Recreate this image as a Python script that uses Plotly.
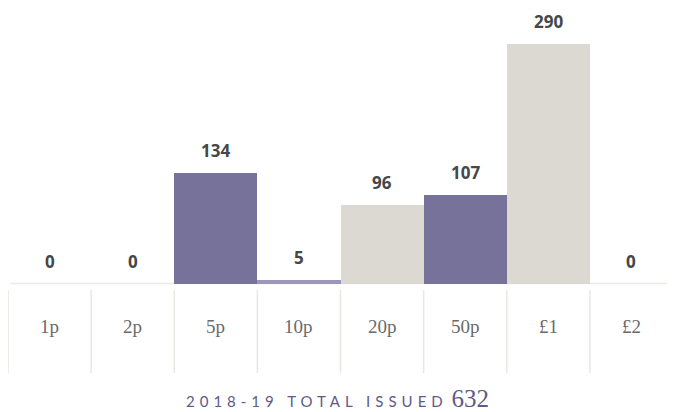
import plotly.graph_objects as go

categories = ["1p", "2p", "5p", "10p", "20p", "50p", "£1", "£2"]
values = [0, 0, 134, 5, 96, 107, 290, 0]
bar_colors = ["#77729a", "#77729a", "#77729a", "#9c97b8", "#dcd9d2", "#77729a", "#dcd9d2", "#dcd9d2"]
year_label = "2018-19 TOTAL ISSUED"
total_issued = sum(values)

# The page body has an 8px default margin, so the figure is drawn 8px in.
OFF = 8
W, H = 675 - OFF, 412 - OFF
BASE = 284  # page pixel of the bar baseline
PLOT_H = BASE - OFF


def py(p):
    """page pixel y -> paper y"""
    return (BASE - p) / PLOT_H


def px(p):
    """page pixel x -> paper x (plot area spans page 8..673)"""
    return (p - OFF) / 665


fig = go.Figure()
fig.add_trace(go.Bar(
    x=categories, y=values,
    marker=dict(color=bar_colors, line=dict(width=0)),
    hoverinfo="x+y",
))

annotations = []
for c, v in zip(categories, values):
    annotations.append(dict(
        x=c, y=v, xref="x", yref="y", text=str(v), showarrow=False,
        yanchor="bottom", yshift=9,
        font=dict(family="Open Sans", size=17, color="#454748", weight=700),
    ))
    annotations.append(dict(
        x=c, y=py(326), xref="x", yref="paper", text=c, showarrow=False,
        yanchor="middle",
        font=dict(family="Liberation Serif", size=19, color="#6a6a6a"),
    ))

annotations.append(dict(
    x=px(337), y=py(398), xref="paper", yref="paper", xanchor="center",
    yanchor="middle", showarrow=False,
    text=(f'<span style="font-family:Lato;font-size:15px;letter-spacing:5px">{year_label}</span> '
          f'<span style="font-family:Liberation Serif;font-size:25px">{total_issued}</span>'),
    font=dict(family="Lato", size=15, color="#5d5a8b"),
))

shapes = [dict(type="line", xref="paper", yref="paper", x0=0.003, x1=1.0,
               y0=py(283.5), y1=py(283.5), line=dict(color="#ecebe5", width=1.5),
               layer="below")]
for i in range(8):
    shapes.append(dict(type="line", xref="paper", yref="paper", x0=i / 8, x1=i / 8,
                       y0=py(290), y1=py(373), line=dict(color="#e9e7e1", width=1.5)))
shapes.append(dict(type="line", xref="paper", yref="paper", x0=1, x1=1,
                   y0=py(272), y1=py(351), line=dict(color="#e9e7e1", width=1.5)))

fig.update_layout(
    width=W, height=H,
    margin=dict(l=0, r=2, t=0, b=H - PLOT_H),
    paper_bgcolor="white", plot_bgcolor="white",
    bargap=0, showlegend=False,
    xaxis=dict(visible=False, range=[-0.5, 7.5]),
    yaxis=dict(visible=False, range=[0, PLOT_H / 0.828]),
    annotations=annotations, shapes=shapes,
)

fig.write_html("out.html")
